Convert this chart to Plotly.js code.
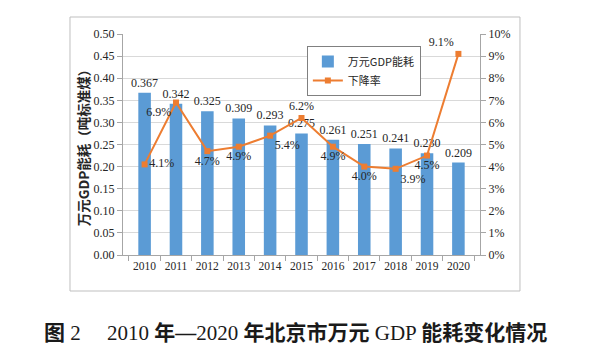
<!DOCTYPE html>
<html>
<head>
<meta charset="utf-8">
<script src="https://cdn.plot.ly/plotly-3.0.1.min.js"></script>
<style>html,body{margin:0;padding:0;background:#fff;}#chart{width:591px;height:364px;}</style>
</head>
<body>
<div id="chart"></div>
<script>
const years = ['2010','2011','2012','2013','2014','2015','2016','2017','2018','2019','2020'];
const energyPerGDP = [0.367, 0.342, 0.325, 0.309, 0.293, 0.275, 0.261, 0.251, 0.241, 0.230, 0.209];
const declineRate = [0.041, 0.069, 0.047, 0.049, 0.054, 0.062, 0.049, 0.040, 0.039, 0.045, 0.091];
const barName = '万元GDP能耗';
const lineName = '下降率';
const yTitle = '万元GDP能耗（吨标准煤）';
const caption = '<b>图</b> 2　 2010 <b>年—</b>2020 <b>年北京市万元</b> GDP <b>能耗变化情况</b>';

const rateLabelPos = ['middle right','bottom left','bottom center','bottom center','bottom right','top center','bottom center','bottom center','bottom right','bottom center','top left'];

const serif = 'Liberation Serif, Times New Roman, serif';
const cjk = 'Noto Sans CJK SC, sans-serif';

const traces = [
  {
    type: 'bar', name: barName, x: years, y: energyPerGDP,
    marker: {color: '#5B9BD5'},
    text: energyPerGDP.map(v => v.toFixed(3)),
    textposition: 'outside', cliponaxis: false, constraintext: 'none',
    textfont: {family: serif, size: 12, color: '#262626'},
    hoverinfo: 'x+y'
  },
  {
    type: 'scatter', mode: 'lines+markers+text', name: lineName, x: years, y: declineRate,
    yaxis: 'y2',
    line: {color: '#ED7D31', width: 2},
    marker: {color: '#ED7D31', symbol: 'square', size: 6},
    text: declineRate.map(v => (v*100).toFixed(1) + '%'),
    textposition: rateLabelPos, cliponaxis: false,
    textfont: {family: serif, size: 12, color: '#262626'}
  }
];

const layout = {
  width: 591, height: 364,
  margin: {l: 123, r: 111, t: 34, b: 109},
  paper_bgcolor: '#fff', plot_bgcolor: '#fff',
  showlegend: true,
  legend: {
    x: 0.515, y: 0.9457, xanchor: 'left', yanchor: 'top',
    bordercolor: '#808080', borderwidth: 1, bgcolor: '#fff',
    font: {family: cjk, size: 11, color: '#262626'},
    itemwidth: 30, tracegroupgap: 2
  },
  bargap: 0.6,
  xaxis: {
    type: 'category', showline: true, linecolor: '#A6A6A6', linewidth: 1,
    ticks: 'outside', tickson: 'boundaries', ticklen: 5, tickcolor: '#A6A6A6',
    tickangle: 0,
    tickfont: {family: serif, size: 11.5, color: '#262626'},
    showgrid: false, zeroline: false
  },
  yaxis: {
    range: [0, 0.5], dtick: 0.05, tickformat: '.2f',
    showline: true, linecolor: '#A6A6A6', ticks: 'outside', ticklen: 5, tickcolor: '#A6A6A6',
    gridcolor: '#D9D9D9', zeroline: false,
    tickfont: {family: serif, size: 12, color: '#262626'},
    title: {text: yTitle, font: {family: cjk, size: 13.5, color: '#262626', weight: 'bold'}, standoff: 0}
  },
  yaxis2: {
    overlaying: 'y', side: 'right', range: [0, 0.1], dtick: 0.01, tickformat: '.0%',
    showline: true, linecolor: '#A6A6A6', ticks: 'outside', ticklen: 5, tickcolor: '#A6A6A6',
    showgrid: false, zeroline: false,
    tickfont: {family: serif, size: 12, color: '#262626'}
  },
  shapes: [{
    type: 'rect', xref: 'paper', yref: 'paper',
    x0: -0.1485, x1: 1.112, y0: -0.1629, y1: 1.0769,
    line: {color: '#BFBFBF', width: 1}, layer: 'below'
  }],
  annotations: [{
    xref: 'paper', yref: 'paper', x: 0.4818, y: -0.353, xanchor: 'center', yanchor: 'middle',
    text: caption, showarrow: false,
    font: {family: 'Liberation Serif, Noto Sans CJK SC, serif', size: 21, color: '#1a1a1a'}
  }]
};

Plotly.newPlot('chart', traces, layout, {displayModeBar: false, staticPlot: true});
</script>
</body>
</html>
